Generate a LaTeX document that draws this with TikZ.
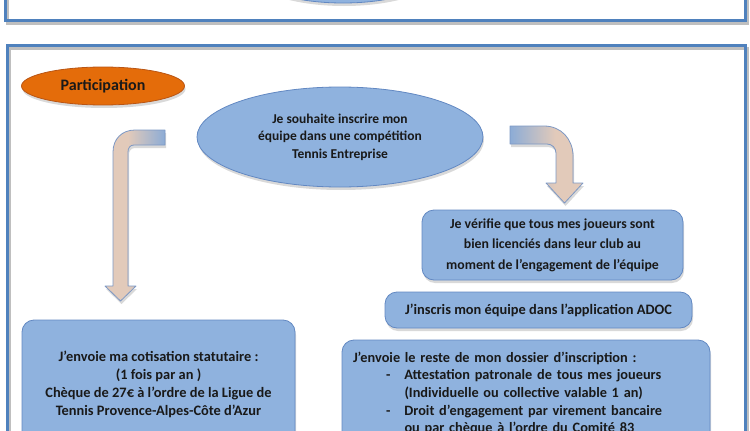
\documentclass[tikz,border=0pt]{standalone}
\usepackage{fontspec}
\setmainfont{Carlito}
\usetikzlibrary{shapes.geometric, shadows}

\definecolor{frameBlue}{RGB}{79,129,189}
\definecolor{boxFill}{RGB}{143,178,222}
\definecolor{boxLine}{RGB}{98,136,194}
\definecolor{partOrange}{RGB}{228,108,10}
\definecolor{partLine}{RGB}{185,85,20}
\definecolor{arrowBlue}{RGB}{140,172,214}
\definecolor{arrowBeige}{RGB}{226,202,186}
\definecolor{arrowLine}{RGB}{125,152,196}
\definecolor{textDark}{RGB}{25,25,25}

\pgfdeclarehorizontalshading{bentLeft}{100bp}{color(0bp)=(arrowBeige); color(44bp)=(arrowBeige); color(75bp)=(arrowBlue); color(100bp)=(arrowBlue)}
\pgfdeclarehorizontalshading{bentRight}{100bp}{color(0bp)=(arrowBlue); color(25bp)=(arrowBlue); color(56bp)=(arrowBeige); color(100bp)=(arrowBeige)}

\begin{document}
\begin{tikzpicture}[x=1pt, y=-1pt]
	\tikzstyle{frame} = [draw=frameBlue, line width=3pt]
	\tikzstyle{frameshadow} = [draw=black!25, line width=3pt]
	\tikzstyle{softshadow} = [drop shadow={opacity=0.3, shadow xshift=1pt, shadow yshift=-3pt}]
	\tikzstyle{oval} = [ellipse, draw=boxLine, fill=boxFill, line width=0.8pt, 
	inner sep=0pt, text=textDark, font=\bfseries\fontsize{13.5}{17.5}\selectfont, 
	align=center, softshadow]
	\tikzstyle{partoval} = [ellipse, draw=partLine, fill=partOrange, line width=0.8pt, 
	minimum width=163, minimum height=38, inner sep=0pt, text=textDark, 
	font=\bfseries\fontsize{16}{19}\selectfont, softshadow]
	\tikzstyle{stepbox} = [rectangle, rounded corners=12, draw=boxLine, fill=boxFill, 
	line width=0.8pt, text=textDark, font=\bfseries\fontsize{14.4}{18}\selectfont, 
	align=center, softshadow]
	\tikzstyle{bentarrow} = [draw=arrowLine, line width=0.8pt, line join=round, softshadow]
	\clip (0,0) rectangle (750,431);
	% frames
	\draw [frameshadow] (7,-30) rectangle (747,23);
	\draw [frame] (5,-30) rectangle (745,20);
	\draw [frameshadow] (9,48) rectangle (747,470);
	\draw [frame] (7,45) rectangle (745,470);
	% nodes
	\node (topOval) [oval, minimum width=190, minimum height=66] at (343,-30) {};
	\node (participation) [partoval] at (103,86) {Participation};
	\node (wish) [oval, minimum width=286, minimum height=100] at (340,137) 
	{Je souhaite inscrire mon\\équipe dans une compétition\\Tennis Entreprise};
	\node (licences) [stepbox, minimum width=261, minimum height=70, 
	font=\bfseries\fontsize{13.8}{20.5}\selectfont] at (552.5,245) 
	{Je vérifie que tous mes joueurs sont\\bien licenciés dans leur club au\\moment de l’engagement de l’équipe};
	\node (adoc) [stepbox, minimum width=307, minimum height=36] at (538.5,310) 
	{J’inscris mon équipe dans l’application ADOC};
	\node (dossier) [stepbox, minimum width=368, minimum height=107, text width=346, 
	align=left, font=\bfseries\fontsize{14.3}{17.6}\selectfont] at (526,393.5) 
	{J’envoie le reste de mon dossier d’inscription :\\
	\hspace*{33pt}-\hspace{14pt}Attestation patronale de tous mes joueurs\\
	\hspace*{51.5pt}(Individuelle ou collective valable 1 an)\\
	\hspace*{33pt}-\hspace{14pt}Droit d’engagement par virement bancaire\\
	\hspace*{51.5pt}ou par chèque à l’ordre du Comité 83};
	\node (cotisation) [stepbox, minimum width=273, minimum height=128] at (158.5,384) 
	{J’envoie ma cotisation statutaire :\\(1 fois par an )\\Chèque de 27€ à l’ordre de la Ligue de\\Tennis Provence-Alpes-Côte d’Azur};
	% bent arrows
	\shadedraw [bentarrow, shading=bentLeft] (165,130) -- (135,130) 
	.. controls (122,130) and (113,139) .. (113,152) -- (113,286) -- (105,286) 
	-- (120.5,301) -- (136,286) -- (128,286) -- (128,152) 
	.. controls (128,148) and (130,145) .. (134,145) -- (165,145) -- cycle;
	\shadedraw [bentarrow, shading=bentRight] (510,126) -- (544,126) 
	.. controls (561,126) and (573,139) .. (573,156) -- (573,183) -- (583,183) 
	-- (564.5,203) -- (546,183) -- (556,183) -- (556,153) 
	.. controls (556,148) and (552,144) .. (547,144) -- (510,144) -- cycle;
\end{tikzpicture}
\end{document}
